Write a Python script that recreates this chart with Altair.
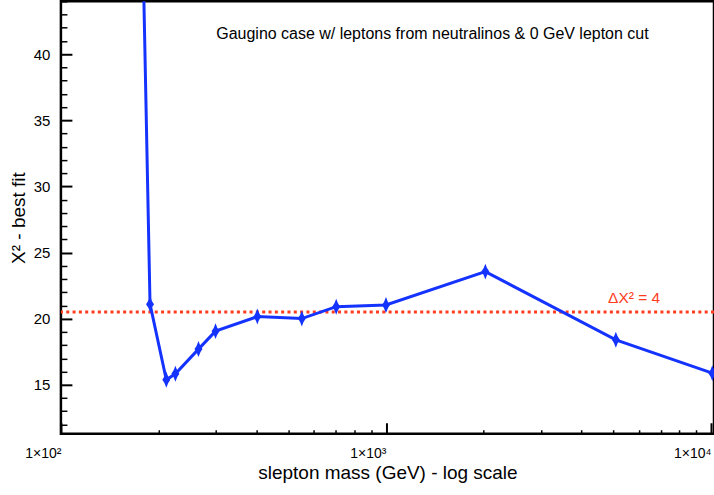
import altair as alt
import pandas as pd

# ---- data ----
mass = [178, 188, 211, 225, 265, 299, 402, 551, 703, 1000, 2022, 5096, 10093]
chi2 = [50.0, 21.1, 15.38, 15.83, 17.70, 19.06, 20.16, 20.01, 20.91, 21.04, 23.56, 18.40, 15.88]
threshold = [20.5]

x_major = [100, 1000, 10000]
x_minor = [200, 300, 400, 500, 600, 700, 800, 900,
           2000, 3000, 4000, 5000, 6000, 7000, 8000, 9000]
y_major = [15, 20, 25, 30, 35, 40]
y_minor = [12, 13, 14, 16, 17, 18, 19, 21, 22, 23, 24, 26, 27, 28, 29,
           31, 32, 33, 34, 36, 37, 38, 39, 41, 42, 43, 44]

note_text = ["Gaugino case w/ leptons from neutralinos & 0 GeV lepton cut"]
note_x = [1390]
note_y = [41.5]
delta_text = ["ΔX² = 4"]
delta_x = [5800]
delta_y = [21.57]

BLUE = "#1533ff"
RED = "#ff3c1e"
FONT = "Liberation Sans"
DIAMOND = "M0,-1Q0.2,-0.35 0.5,0Q0.2,0.35 0,1Q-0.2,0.35 -0.5,0Q-0.2,-0.35 0,-1Z"

df = pd.DataFrame({"mass": mass, "chi2": chi2})
df_thr = pd.DataFrame({"thr": threshold})
df_note = pd.DataFrame({"nx": note_x, "ny": note_y, "label": note_text})
df_delta = pd.DataFrame({"dx": delta_x, "dy": delta_y, "label": delta_text})

xs = alt.Scale(type="log", domain=[100, 10214], nice=False)
ys = alt.Scale(domain=[11.3, 44.0], nice=False, zero=False)

x_label_expr = ("datum.value == 100 ? '1×10²' : "
                "(datum.value == 1000 ? '1×10³' : '1×10⁴')")

x_major_axis = alt.Axis(values=x_major, orient="bottom", offset=-11, tickSize=11,
                        tickWidth=2, labelExpr=x_label_expr, labelAlign="right",
                        labelPadding=13, labelFontSize=14, labelOverlap=False,
                        labelFlush=False,
                        title="slepton mass (GeV) - log scale", titleFontSize=19,
                        titlePadding=3)
y_major_axis = alt.Axis(values=y_major, orient="left", offset=-11, tickSize=11,
                        tickWidth=2, labelPadding=11, labelFontSize=15,
                        labelOverlap=False,
                        title="X² - best fit", titleFontSize=19, titlePadding=5)
x_minor_axis = alt.Axis(values=x_minor, orient="bottom", offset=-4, tickSize=4,
                        tickWidth=1.5, labels=False, title=None)
y_minor_axis = alt.Axis(values=y_minor, orient="left", offset=-6, tickSize=6,
                        tickWidth=1.5, labels=False, title=None)

rule = alt.Chart(df_thr).mark_rule(color=RED, strokeWidth=3, strokeDash=[3, 3.33]).encode(
    y=alt.Y("thr:Q", scale=ys, axis=None)
)

line = alt.Chart(df).mark_line(color=BLUE, strokeWidth=3, clip=True).encode(
    x=alt.X("mass:Q", scale=xs, axis=None),
    y=alt.Y("chi2:Q", scale=ys, axis=None),
)

points = alt.Chart(df).mark_point(shape=DIAMOND, filled=True, size=256, color=BLUE,
                                  opacity=1, clip=True).encode(
    x=alt.X("mass:Q", scale=xs, axis=x_major_axis),
    y=alt.Y("chi2:Q", scale=ys, axis=y_major_axis),
)

note = alt.Chart(df_note).mark_text(font=FONT, fontSize=16, color="black",
                                    align="center", baseline="middle").encode(
    x=alt.X("nx:Q", scale=xs, axis=x_minor_axis),
    y=alt.Y("ny:Q", scale=ys, axis=y_minor_axis),
    text="label:N",
)

delta = alt.Chart(df_delta).mark_text(font=FONT, fontSize=15.5, color=RED,
                                      align="center", baseline="middle").encode(
    x=alt.X("dx:Q", scale=xs, axis=None),
    y=alt.Y("dy:Q", scale=ys, axis=None),
    text="label:N",
)

chart = alt.layer(rule, line, points, note, delta).resolve_axis(
    x="independent", y="independent"
).properties(
    width=654, height=433,
    autosize=alt.AutoSizeParams(type="none"),
    padding={"left": 61, "top": 1, "right": 0, "bottom": 61},
    background="white",
).configure_view(
    stroke="black", strokeWidth=2.5
).configure_axis(
    labelFont=FONT, titleFont=FONT, labelColor="black", titleColor="black",
    titleFontWeight="normal", grid=False, domain=False, tickColor="black",
)

chart.save("out.html", embed_options={"renderer": "svg", "actions": False})
